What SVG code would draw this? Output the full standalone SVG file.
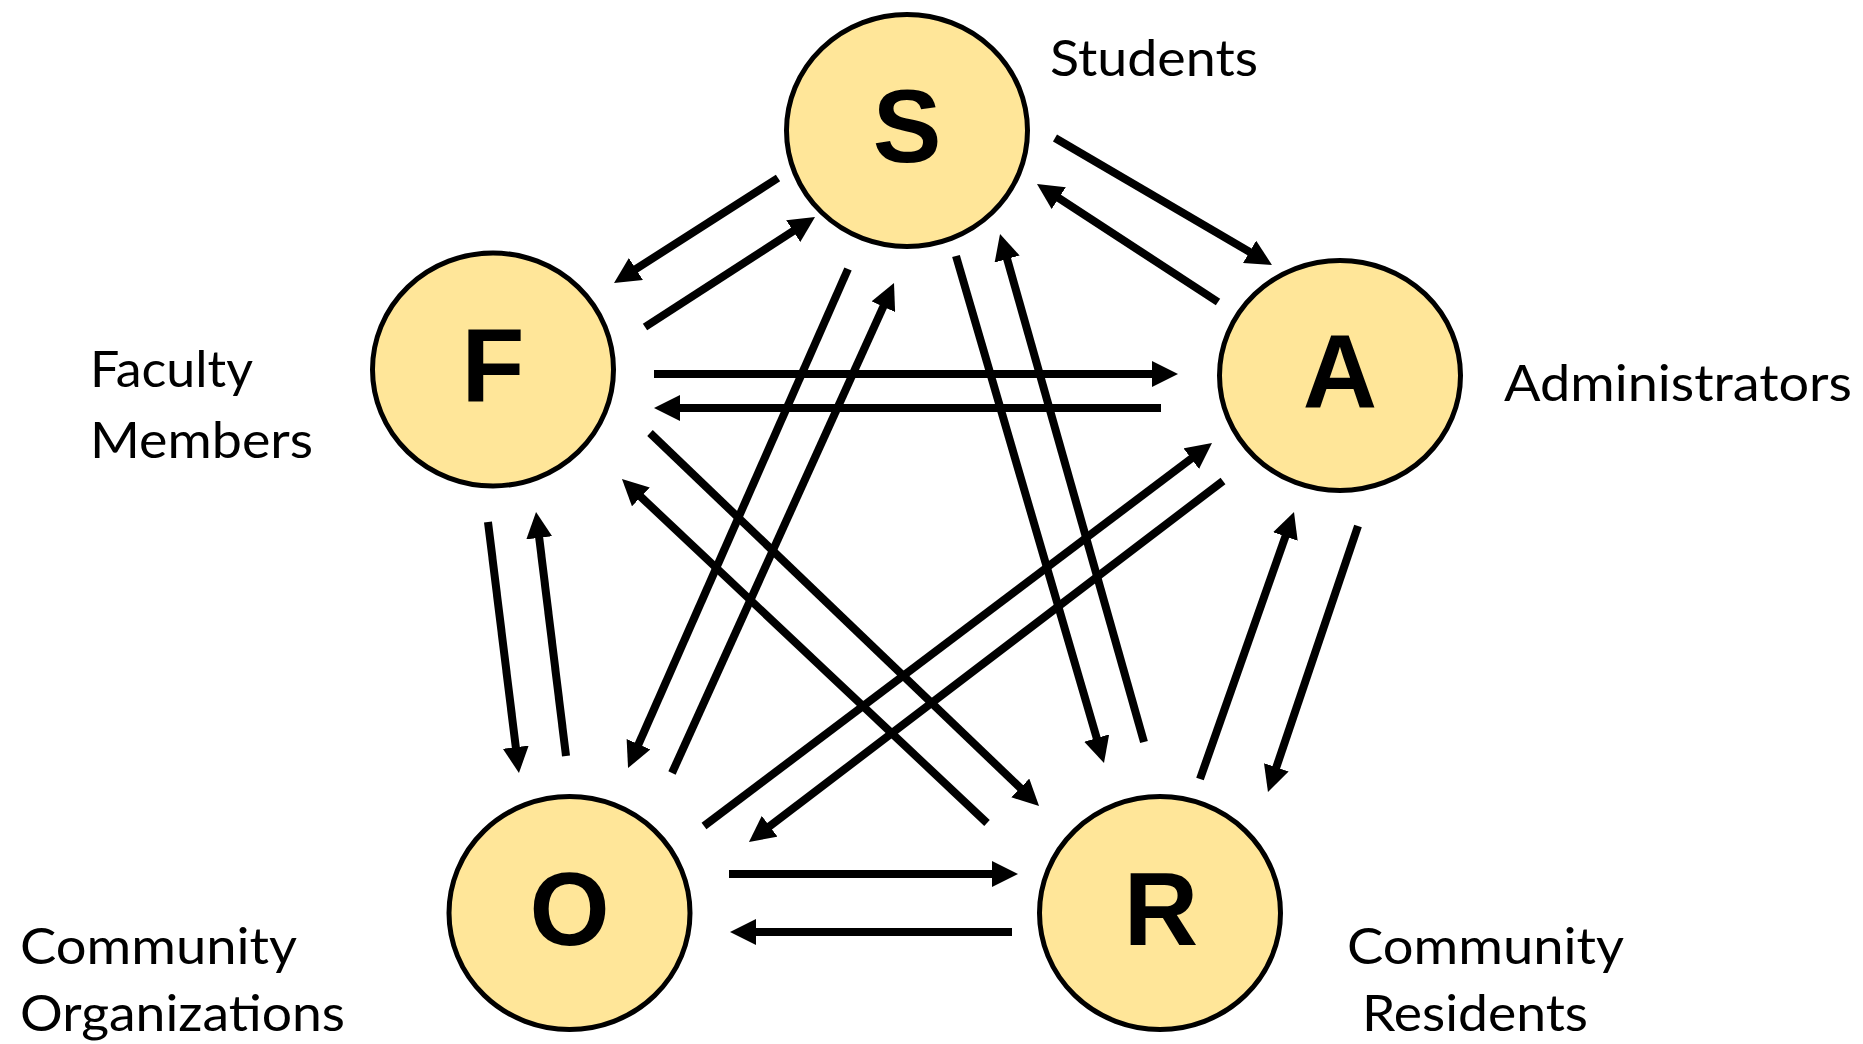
<svg xmlns="http://www.w3.org/2000/svg" width="1863" height="1044" viewBox="0 0 1863 1044">
<style>
.node ellipse{fill:#FFE699;stroke:#000;stroke-width:5}
.letter{font-family:"Liberation Sans",Arial,sans-serif;font-weight:bold;font-size:103px;fill:#000;text-anchor:middle}
.label{font-family:Lato,"Open Sans",sans-serif;font-size:51px;fill:#000}
#connectors line{stroke:#000;stroke-width:8;marker-end:url(#ah)}
</style>
<defs>
<marker id="ah" markerUnits="userSpaceOnUse" markerWidth="26" markerHeight="26" viewBox="0 0 26 26" refX="10" refY="13" orient="auto">
<path d="M0,0 L26,13 L0,26 Z" fill="#000"/>
</marker>
</defs>
<rect width="1863" height="1044" fill="#fff"/>
<g id="connectors">
<line x1="778" y1="178" x2="627.5" y2="274.4"/>
<line x1="645" y1="327" x2="801.6" y2="225.7"/>
<line x1="1055" y1="138" x2="1258.2" y2="256.9"/>
<line x1="1218" y1="302" x2="1050.4" y2="192.7"/>
<line x1="654" y1="374" x2="1162" y2="374"/>
<line x1="1161" y1="408" x2="670" y2="408"/>
<line x1="848" y1="269" x2="634.5" y2="753.4"/>
<line x1="672" y1="773" x2="887.4" y2="297.6"/>
<line x1="956" y1="256" x2="1099.5" y2="747.6"/>
<line x1="1144" y1="742" x2="1004.4" y2="249.4"/>
<line x1="650" y1="433" x2="1027.5" y2="794.9"/>
<line x1="987" y1="823" x2="633.6" y2="490"/>
<line x1="488" y1="522" x2="517" y2="757.1"/>
<line x1="566" y1="756" x2="538" y2="527.9"/>
<line x1="1223" y1="481" x2="761.7" y2="832.3"/>
<line x1="704" y1="826" x2="1199.2" y2="452.6"/>
<line x1="1358" y1="526" x2="1273.1" y2="776.8"/>
<line x1="1200" y1="779" x2="1288.7" y2="527.1"/>
<line x1="729" y1="874" x2="1002" y2="874"/>
<line x1="1012" y1="932" x2="746" y2="932"/>
</g>
<g id="node-S" class="node">
<ellipse cx="907" cy="130.5" rx="120.5" ry="116"/>
<text class="letter" x="907" y="162">S</text>
<text class="label" x="1050" y="76" textLength="208" lengthAdjust="spacingAndGlyphs">Students</text>
</g>
<g id="node-F" class="node">
<ellipse cx="493" cy="369.5" rx="120.5" ry="116.5"/>
<text class="letter" x="493" y="401">F</text>
<text class="label" x="90" y="387" textLength="163" lengthAdjust="spacingAndGlyphs">Faculty</text>
<text class="label" x="90" y="458" textLength="223" lengthAdjust="spacingAndGlyphs">Members</text>
</g>
<g id="node-A" class="node">
<ellipse cx="1340" cy="375.5" rx="120.5" ry="115"/>
<text class="letter" x="1340" y="407">A</text>
<text class="label" x="1504" y="401" textLength="348" lengthAdjust="spacingAndGlyphs">Administrators</text>
</g>
<g id="node-O" class="node">
<ellipse cx="569.5" cy="913" rx="120.5" ry="116.5"/>
<text class="letter" x="569.5" y="945">O</text>
<text class="label" x="20" y="964" textLength="277" lengthAdjust="spacingAndGlyphs">Community</text>
<text class="label" x="20" y="1031" textLength="325" lengthAdjust="spacingAndGlyphs">Organizations</text>
</g>
<g id="node-R" class="node">
<ellipse cx="1160" cy="913" rx="120.5" ry="116.5"/>
<text class="letter" x="1161" y="945">R</text>
<text class="label" x="1347" y="964" textLength="277" lengthAdjust="spacingAndGlyphs">Community</text>
<text class="label" x="1362" y="1031" textLength="226" lengthAdjust="spacingAndGlyphs">Residents</text>
</g>
</svg>
